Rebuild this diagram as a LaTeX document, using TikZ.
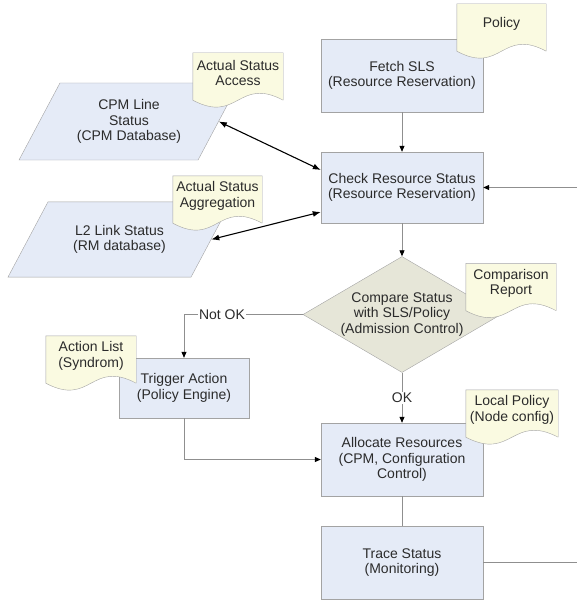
\documentclass[tikz,border=0pt]{standalone}
\usepackage{fontspec}
\setmainfont{Liberation Sans}
\usetikzlibrary{shapes.geometric,arrows.meta}

\definecolor{boxblue}{HTML}{E5EBF7}
\definecolor{docyellow}{HTML}{FAFAE1}
\definecolor{cmpbeige}{HTML}{E6E6D8}
\definecolor{edgegray}{HTML}{A3A3A3}
\definecolor{linegray}{HTML}{8F8F8F}
\definecolor{txtgray}{HTML}{2B2B2B}

\tikzset{
  every node/.style={font=\fontsize{14}{15.5}\selectfont, text=txtgray, align=center},
  proc/.style={draw=edgegray, fill=boxblue, minimum width=162pt, minimum height=73pt, inner sep=2pt},
  data/.style={trapezium, trapezium left angle=62, trapezium right angle=118, trapezium stretches body,
    draw=edgegray, fill=boxblue, minimum width=220pt, inner xsep=1pt},
  decision/.style={diamond, aspect=1.7, draw=edgegray, fill=cmpbeige, minimum width=198pt, minimum height=115pt, inner sep=0pt},
  doc/.style={fill=docyellow, minimum width=90pt, minimum height=40pt, inner sep=1pt},
  docline/.style={draw=edgegray},
  flow/.style={draw=linegray, line width=0.8pt, -{Triangle[length=6pt,width=5pt,color=black]}},
  link/.style={draw=linegray, line width=0.8pt},
  access/.style={draw=black, line width=1.1pt, {Latex[length=8pt,width=6pt]}-{Latex[length=8pt,width=6pt]}},
  tag/.style={fill=white, inner sep=1pt}
}

% documento com fundo ondulado
\newcommand{\docwave}[1]{%
  \fill[docyellow] (#1.south west) -- ([yshift=-7pt]#1.south west)
    .. controls ([yshift=-31pt]#1.south) and ([yshift=17pt]#1.south) .. ([yshift=-7pt]#1.south east)
    -- (#1.south east) -- cycle;
  \draw[docline] ([yshift=-7pt]#1.south east) -- (#1.north east) -- (#1.north west) -- ([yshift=-7pt]#1.south west)
    .. controls ([yshift=-31pt]#1.south) and ([yshift=17pt]#1.south) .. ([yshift=-7pt]#1.south east);}

\begin{document}
\begin{tikzpicture}[x=1pt,y=-1pt]
    \useasboundingbox (0,0) rectangle (577,602);

    % Processos
    \node[proc] (fetch) at (402,75.5) {Fetch SLS\\(Resource Reservation)};
    \node[proc, minimum height=71pt] (check) at (402,187.5) {Check Resource Status\\(Resource Reservation)};
    \node[decision] (cmp) at (402,314.5) {Compare Status\\with SLS/Policy\\(Admission Control)};
    \node[proc, minimum width=130pt, minimum height=60pt] (trigger) at (184,388) {Trigger Action\\(Policy Engine)};
    \node[proc] (alloc) at (402,459.5) {Allocate Resources\\(CPM, Configuration\\Control)};
    \node[proc] (trace) at (402,562.5) {Trace Status\\(Monitoring)};

    % Bases de dados
    \node[data, inner ysep=16.5pt] (cpm) at (129,121.5) {CPM Line\\Status\\(CPM Database)};
    \node[data, inner ysep=23.3pt, minimum width=223pt] (l2) at (119.5,239.5) {L2 Link Status\\(RM database)};

    % Ligacoes
    \coordinate (loopin) at (577,187.5);
    \coordinate (loopout) at (577,562.5);
    \draw[flow] (fetch) -- (check);
    \draw[flow] (loopin) -- (check);
    \draw[flow] (check) -- (cmp);
    \draw[flow] (cmp.west) -| node[tag, pos=0.34] {Not OK} (trigger.north);
    \draw[flow] (cmp) -- node[tag] {OK} (alloc);
    \draw[flow] (trigger.south) |- (alloc.west);
    \draw[link] (alloc) -- (trace);
    \draw[link] (trace) -- (loopout);
    \draw[access] (cpm.east) -- ([yshift=17.5pt]check.west);
    \draw[access] (l2.east) -- ([yshift=-24.5pt]check.west);

    % Documentos
    \node[doc, minimum width=89pt] (policy) at (501.5,24) {Policy};
    \node[doc] (actaccess) at (238,73) {Actual Status\\Access};
    \node[doc, minimum width=89pt] (actaggr) at (217.5,196) {Actual Status\\Aggregation};
    \node[doc] (cmpreport) at (511,283.5) {Comparison\\Report};
    \node[doc] (actionlist) at (91,356) {Action List\\(Syndrom)};
    \node[doc, minimum width=92pt] (localpolicy) at (512,410) {Local Policy\\(Node config)};
    \docwave{policy}
    \docwave{actaccess}
    \docwave{actaggr}
    \docwave{cmpreport}
    \docwave{actionlist}
    \docwave{localpolicy}
\end{tikzpicture}
\end{document}
